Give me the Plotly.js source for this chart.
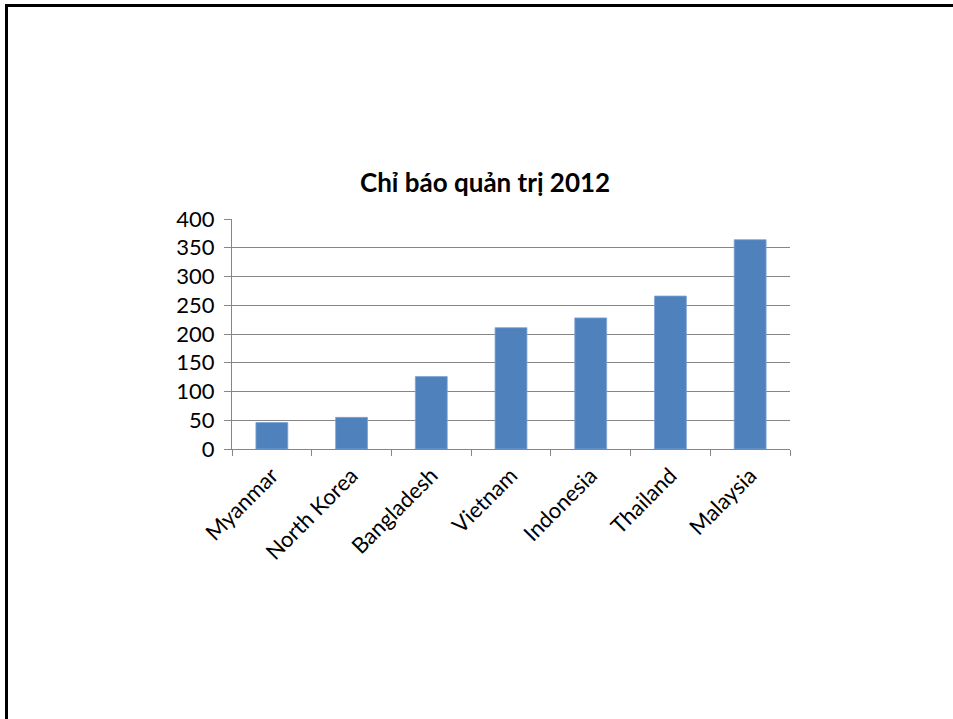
<!DOCTYPE html>
<html>
<head>
<meta charset="utf-8">
<script src="https://cdn.plot.ly/plotly-3.0.1.min.js"></script>
<style>
  html, body { margin: 0; padding: 0; background: #fff; }
  #wrap { position: relative; width: 953px; height: 719px; overflow: hidden; }
  #chart { position: absolute; left: 0; top: 0; width: 953px; height: 719px; }
  #frame { position: absolute; left: 5px; top: 4px; width: 960px; height: 730px;
           border-top: 3px solid #000; border-left: 3px solid #000; pointer-events: none; }
</style>
</head>
<body>
<div id="wrap">
  <div id="chart"></div>
  <div id="frame"></div>
</div>
<script>
const categories = ["Myanmar", "North Korea", "Bangladesh", "Vietnam", "Indonesia", "Thailand", "Malaysia"];
const values = [46, 55, 126, 211, 228, 266, 364];
const yTicks = [0, 50, 100, 150, 200, 250, 300, 350, 400];
const chartTitle = "Chỉ báo quản trị 2012";

const font = "Lato, 'Open Sans', 'Liberation Sans', sans-serif";

const trace = {
  type: "bar",
  x: categories,
  y: values,
  marker: { color: "#4F81BD", line: { color: "#7FA3D3", width: 0.8 } },
  hoverinfo: "x+y"
};

const layout = {
  width: 953,
  height: 719,
  margin: { l: 232, r: 163, t: 219, b: 270 },
  paper_bgcolor: "#ffffff",
  plot_bgcolor: "#ffffff",
  showlegend: false,
  bargap: 0.6,
  font: { family: font, color: "#000000", size: 22 },
  title: {
    text: "<b>" + chartTitle + "</b>",
    font: { family: font, size: 26, color: "#000000" },
    x: 0.509, xanchor: "center",
    y: 1 - 183 / 719, yanchor: "middle",
    xref: "container", yref: "container"
  },
  xaxis: {
    type: "category",
    tickangle: -45,
    tickson: "boundaries",
    ticks: "outside",
    ticklen: 6,
    tickcolor: "#868686",
    showline: true,
    linecolor: "#868686",
    linewidth: 1,
    showgrid: false,
    tickfont: { family: font, size: 22, color: "#000" },
    ticklabelstandoff: 4,
    fixedrange: true
  },
  yaxis: {
    range: [0, 400],
    tickvals: yTicks,
    ticktext: yTicks.map(String),
    ticks: "outside",
    ticklen: 7,
    tickcolor: "#868686",
    showline: true,
    linecolor: "#868686",
    linewidth: 1,
    showgrid: true,
    gridcolor: "#868686",
    gridwidth: 1,
    zeroline: false,
    tickfont: { family: font, size: 22, color: "#000" },
    ticklabelstandoff: 5,
    fixedrange: true
  }
};

Plotly.newPlot("chart", [trace], layout, { displayModeBar: false, staticPlot: true });
</script>
</body>
</html>
